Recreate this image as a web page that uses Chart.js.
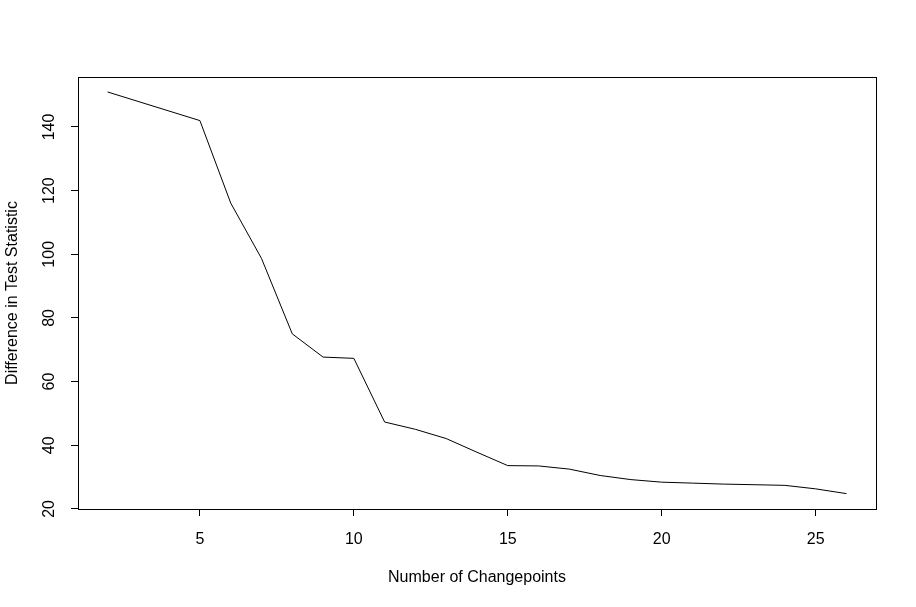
<!DOCTYPE html>
<html>
<head>
<meta charset="utf-8">
<script src="https://cdn.jsdelivr.net/npm/chart.js@4"></script>
<style>
  body { margin: 0; background: #fff; }
  canvas { display: block; }
</style>
</head>
<body>
<canvas id="chart" width="916" height="607"></canvas>
<script>
// changepoint counts and the drop in the test statistic
const changepoints = [2, 5, 6, 7, 8, 9, 10, 11, 12, 13, 14, 15, 16, 17, 18, 19, 20, 21, 22, 23, 24, 25, 26];
const statDiff = [151.0, 142.0, 116.1, 98.7, 75.0, 67.7, 67.3, 47.3, 45.0, 42.1, 37.8, 33.6, 33.5, 32.5, 30.5, 29.2, 28.4, 28.1, 27.8, 27.6, 27.4, 26.3, 24.8];
const xTicks = [5, 10, 15, 20, 25];
const yTicks = [20, 40, 60, 80, 100, 120, 140];

const fontFamily = '"Liberation Sans", Arial, Helvetica, sans-serif';

// R style box around the plot plus axis lines spanning first to last tick
const boxPlugin = {
  id: 'rbox',
  afterDraw(chart) {
    const { ctx, chartArea: a, scales } = chart;
    ctx.save();
    ctx.strokeStyle = '#000';
    ctx.lineWidth = 1;
    ctx.strokeRect(a.left + 0.5, a.top + 0.5, a.right - a.left, a.bottom - a.top);
    const x0 = scales.x.getPixelForValue(xTicks[0]);
    const x1 = scales.x.getPixelForValue(xTicks[xTicks.length - 1]);
    const y0 = scales.y.getPixelForValue(yTicks[0]);
    const y1 = scales.y.getPixelForValue(yTicks[yTicks.length - 1]);
    ctx.beginPath();
    ctx.moveTo(x0, a.bottom + 0.5);
    ctx.lineTo(x1, a.bottom + 0.5);
    ctx.moveTo(a.left + 0.5, y0);
    ctx.lineTo(a.left + 0.5, y1);
    ctx.stroke();
    ctx.restore();
  }
};

new Chart(document.getElementById('chart'), {
  type: 'line',
  data: {
    datasets: [
      {
        data: changepoints.map((c, i) => ({ x: c, y: statDiff[i] })),
        borderColor: '#000',
        borderWidth: 1,
        pointRadius: 0,
        tension: 0,
        fill: false,
      },
    ],
  },
  options: {
    responsive: false,
    animation: false,
    layout: { padding: { top: 77, right: 40, left: 0, bottom: 0 } },
    plugins: {
      legend: { display: false },
      tooltip: { enabled: false },
    },
    scales: {
      x: {
        type: 'linear',
        min: 1.04,
        max: 26.96,
        afterBuildTicks: scale => {
          scale.ticks = xTicks.map(v => ({ value: v }));
        },
        afterFit: scale => {
          scale.height = 98;
        },
        grid: {
          drawOnChartArea: false,
          tickLength: 7,
          color: '#000',
        },
        border: { display: false },
        ticks: {
          color: '#000',
          padding: 14,
          maxRotation: 0,
          font: { family: fontFamily, size: 16 },
        },
        title: {
          display: true,
          text: 'Number of Changepoints',
          color: '#000',
          font: { family: fontFamily, size: 16 },
          padding: { top: 0, bottom: 20 },
        },
      },
      y: {
        type: 'linear',
        min: 19.97,
        max: 155.7,
        afterBuildTicks: scale => {
          scale.ticks = yTicks.map(v => ({ value: v }));
        },
        afterFit: scale => {
          scale.width = 78;
        },
        grid: {
          drawOnChartArea: false,
          tickLength: 7,
          color: '#000',
        },
        border: { display: false },
        ticks: {
          color: '#000',
          padding: 8,
          minRotation: 90,
          maxRotation: 90,
          crossAlign: 'center',
          font: { family: fontFamily, size: 16 },
        },
        title: {
          display: true,
          text: 'Difference in Test Statistic',
          color: '#000',
          font: { family: fontFamily, size: 16 },
          padding: { top: 3, bottom: 0 },
        },
      },
    },
  },
  plugins: [boxPlugin],
});
</script>
</body>
</html>
